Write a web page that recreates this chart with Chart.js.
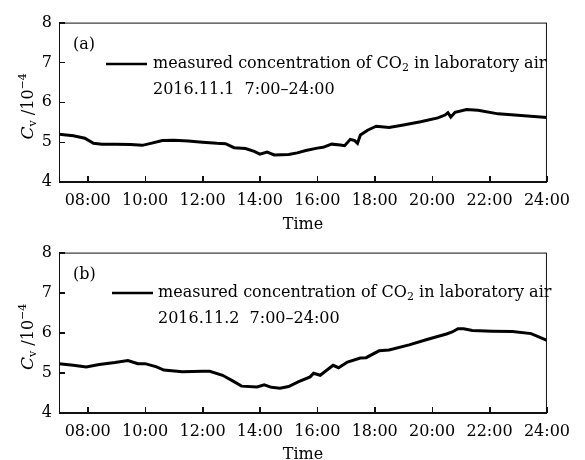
<!DOCTYPE html>
<html>
<head>
<meta charset="utf-8">
<title>CO2 concentration in laboratory air</title>
<script src="https://cdn.jsdelivr.net/npm/chart.js@4.4.1/dist/chart.umd.min.js"></script>
<style>
  body { margin: 0; background: #fff; }
  .panel { position: absolute; left: 0; width: 585px; height: 230px; }
</style>
</head>
<body>
<div class="panel" style="top:0"><canvas id="chartA" width="585" height="230"></canvas></div>
<div class="panel" style="top:230px"><canvas id="chartB" width="585" height="230"></canvas></div>
<script>
// time of day in hours, concentration in 10^-4
const hoursA = [7.0, 7.5, 7.9, 8.2, 8.5, 9.0, 9.5, 9.9, 10.2, 10.6, 11.0, 11.5, 12.0, 12.5, 12.8,
  13.1, 13.5, 13.8, 14.0, 14.25, 14.5, 15.0, 15.3, 15.6, 16.0, 16.2, 16.5, 16.8, 16.95, 17.15,
  17.3, 17.4, 17.5, 17.75, 18.05, 18.5, 19.0, 19.6, 20.2, 20.45, 20.55, 20.65, 20.8, 21.2, 21.6,
  22.3, 23.1, 24.0];
const valuesA = [5.20, 5.16, 5.10, 4.97, 4.95, 4.95, 4.94, 4.92, 4.97, 5.04, 5.05, 5.03, 5.00, 4.97, 4.96,
  4.86, 4.84, 4.77, 4.70, 4.75, 4.68, 4.69, 4.73, 4.79, 4.85, 4.87, 4.95, 4.93, 4.91, 5.07,
  5.04, 4.97, 5.18, 5.30, 5.40, 5.37, 5.43, 5.51, 5.61, 5.68, 5.74, 5.63, 5.75, 5.82, 5.80,
  5.71, 5.67, 5.62];

const hoursB = [7.0, 7.5, 7.95, 8.4, 8.95, 9.4, 9.75, 10.0, 10.4, 10.65, 11.3, 12.0, 12.25, 12.7,
  13.05, 13.36, 13.9, 14.15, 14.4, 14.7, 15.0, 15.35, 15.75, 15.87, 16.1, 16.55, 16.74, 17.05,
  17.5, 17.7, 18.15, 18.5, 19.2, 19.85, 20.5, 20.7, 20.9, 21.1, 21.4, 22.1, 22.8, 23.45, 24.0];
const valuesB = [5.23, 5.19, 5.15, 5.21, 5.26, 5.31, 5.23, 5.23, 5.15, 5.07, 5.03, 5.04, 5.04, 4.94,
  4.80, 4.67, 4.65, 4.70, 4.64, 4.62, 4.66, 4.78, 4.90, 4.99, 4.94, 5.19, 5.13, 5.27,
  5.37, 5.38, 5.55, 5.57, 5.70, 5.84, 5.97, 6.02, 6.10, 6.10, 6.06, 6.04, 6.03, 5.98, 5.81];

const xTickValues = [8, 10, 12, 14, 16, 18, 20, 22, 24];
const xTickLabels = ['08:00', '10:00', '12:00', '14:00', '16:00', '18:00', '20:00', '22:00', '24:00'];
const yTickValues = [4, 5, 6, 7, 8];

const FONT = "'DejaVu Serif', serif";
Chart.defaults.font.family = FONT;
Chart.defaults.font.size = 16;
Chart.defaults.color = '#000';

// box, inner ticks, panel tag, legend and y title drawn on the canvas
const panelDecor = {
  id: 'panelDecor',
  afterDraw(chart, args, opts) {
    const ctx = chart.ctx;
    const a = chart.chartArea;
    const sx = chart.scales.x, sy = chart.scales.y;
    ctx.save();
    ctx.strokeStyle = '#111';
    ctx.lineWidth = 1;
    ctx.strokeRect(a.left + 0.5, a.top + 0.5, a.right - a.left - 1, a.bottom - a.top - 1);

    ctx.beginPath();
    xTickValues.forEach(v => {
      const p = Math.round(sx.getPixelForValue(v)) + 0.5;
      ctx.moveTo(p, a.bottom);
      ctx.lineTo(p, a.bottom - 6);
    });
    yTickValues.forEach(v => {
      const p = Math.round(sy.getPixelForValue(v)) + 0.5;
      ctx.moveTo(a.left, p);
      ctx.lineTo(a.left + 6, p);
    });
    ctx.stroke();

    ctx.fillStyle = '#000';
    ctx.textBaseline = 'middle';
    ctx.font = '16px ' + FONT;
    ctx.fillText(opts.tag, opts.tagX, opts.tagY);

    // legend sample line
    ctx.strokeStyle = '#000';
    ctx.lineWidth = 2.5;
    ctx.beginPath();
    ctx.moveTo(opts.lineX, opts.lineY);
    ctx.lineTo(opts.lineX + 41, opts.lineY);
    ctx.stroke();

    let x = opts.textX;
    ctx.font = '16px ' + FONT;
    ctx.fillText('measured concentration of CO', x, opts.lineY);
    x += ctx.measureText('measured concentration of CO').width;
    ctx.font = '11px ' + FONT;
    ctx.fillText('2', x, opts.lineY + 4);
    x += ctx.measureText('2').width;
    ctx.font = '16px ' + FONT;
    ctx.fillText(' in laboratory air', x, opts.lineY);
    ctx.fillText(opts.date + '  7:00\u201324:00', opts.textX, opts.lineY + 26);

    // y title: C_v /10^-4
    const cy = (a.top + a.bottom) / 2 + 4;
    ctx.translate(33, cy);
    ctx.rotate(-Math.PI / 2);
    ctx.textBaseline = 'alphabetic';
    const parts = [
      ['italic 17px ' + FONT, 'C', 0],
      ['11px ' + FONT, 'v', 3],
      ['16px ' + FONT, ' /10', 0],
      ['11px ' + FONT, '\u22124', -7]
    ];
    let total = 0;
    parts.forEach(p => { ctx.font = p[0]; total += ctx.measureText(p[1]).width; });
    let px = -total / 2;
    parts.forEach(p => {
      ctx.font = p[0];
      ctx.fillText(p[1], px, p[2]);
      px += ctx.measureText(p[1]).width;
    });
    ctx.restore();
  }
};

function makeChart(id, hours, values, padTop, xHeight, decor) {
  const points = hours.map((h, i) => ({ x: h, y: values[i] }));
  return new Chart(document.getElementById(id), {
    type: 'line',
    data: {
      datasets: [{
        data: points,
        borderColor: '#000',
        borderWidth: 3,
        pointRadius: 0,
        tension: 0,
        fill: false
      }]
    },
    options: {
      responsive: false,
      animation: false,
      devicePixelRatio: 1,
      layout: { padding: { left: 0, top: padTop, right: 25, bottom: 0 } },
      plugins: {
        legend: { display: false },
        tooltip: { enabled: false },
        panelDecor: decor
      },
      scales: {
        x: {
          type: 'linear',
          min: 7,
          max: 24,
          afterBuildTicks: s => { s.ticks = xTickValues.map(v => ({ value: v })); },
          afterFit: s => { s.height = xHeight; },
          ticks: {
            padding: 15,
            maxRotation: 0,
            autoSkip: false,
            callback: v => xTickLabels[xTickValues.indexOf(v)]
          },
          grid: { display: true, drawOnChartArea: false, tickLength: -6, color: '#111' },
          border: { display: true, color: '#111', width: 1 },
          title: { display: true, text: 'Time', font: { size: 16 }, padding: { top: 0, bottom: -4 } }
        },
        y: {
          min: 4,
          max: 8,
          afterBuildTicks: s => { s.ticks = yTickValues.map(v => ({ value: v })); },
          afterFit: s => { s.width = 59; },
          ticks: { padding: 13 },
          grid: { display: true, drawOnChartArea: false, tickLength: -6, color: '#111' },
          border: { display: true, color: '#111', width: 1 }
        }
      }
    },
    plugins: [panelDecor]
  });
}

makeChart('chartA', hoursA, valuesA, 20, 48,
  { tag: '(a)', tagX: 73, tagY: 45, lineX: 106, lineY: 64, textX: 153, date: '2016.11.1' });
makeChart('chartB', hoursB, valuesB, 22, 47,
  { tag: '(b)', tagX: 73, tagY: 45, lineX: 112, lineY: 63, textX: 158, date: '2016.11.2' });
</script>
</body>
</html>
